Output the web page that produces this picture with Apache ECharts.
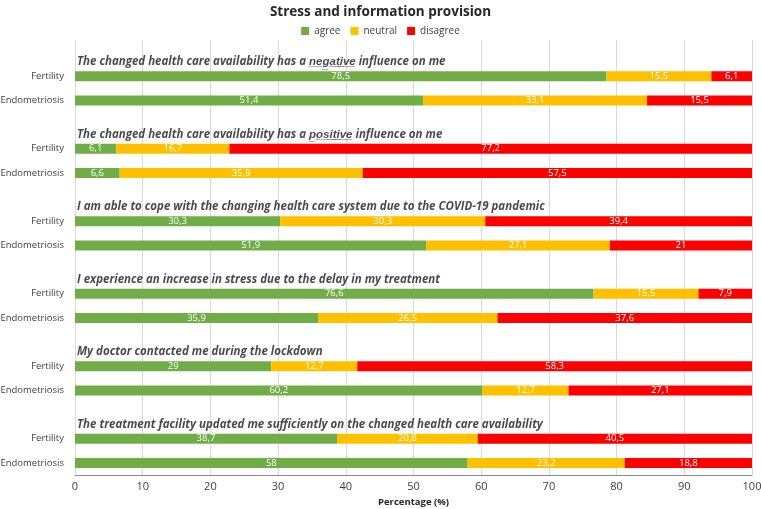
<!DOCTYPE html>
<html>
<head>
<meta charset="utf-8">
<script src="https://cdn.jsdelivr.net/npm/echarts@6/dist/echarts.min.js"></script>
<style>
  html, body { margin: 0; padding: 0; background: #fff; }
  #chart { width: 761px; height: 509px; }
</style>
</head>
<body>
<div id="chart"></div>
<script>
// statements (one per group); the word in [] is underlined in the original
const statements = [
  "The changed health care availability has a [negative] influence on me",
  "The changed health care availability has a [positive] influence on me",
  "I am able to cope with the changing health care system due to the COVID-19 pandemic",
  "I experience an increase in stress due to the delay in my treatment",
  "My doctor contacted me during the lockdown",
  "The treatment facility updated me sufficiently on the changed health care availability"
];
const groups = ["Fertility", "Endometriosis"];

// per group: [Fertility, Endometriosis]
const agree    = [[78.5, 51.4], [6.1, 6.6], [30.3, 51.9], [76.6, 35.9], [29, 60.2], [38.7, 58]];
const neutral  = [[15.5, 33.1], [16.7, 35.9], [30.3, 27.1], [15.5, 26.5], [12.7, 12.7], [20.8, 23.2]];
const disagree = [[6.1, 15.5], [77.2, 57.5], [39.4, 21], [7.9, 37.6], [58.3, 27.1], [40.5, 18.8]];

const xTicks = [0, 10, 20, 30, 40, 50, 60, 70, 80, 90, 100];

// rows: a statement row followed by the two patient groups
const categories = [];
statements.forEach(() => { categories.push(""); groups.forEach(g => categories.push(g)); });

function rows(arr) {
  const out = [];
  arr.forEach(pair => { out.push("-"); pair.forEach(v => out.push(v)); });
  return out;
}

// underline via combining low line
function underline(s) {
  return s.replace(/\[(.*?)\]/g, (m, w) => w.split("").map(c => c + "\u0332").join(""));
}
const statementPoints = statements.map((s, i) => ({ value: [0, i * 3], text: underline(s) }));

const chart = echarts.init(document.getElementById("chart"));
const font = "Open Sans, sans-serif";

const barLabel = {
  show: true,
  position: "inside",
  color: "#fff",
  fontSize: 9.5,
  fontFamily: font,
  formatter: p => String(p.value).replace(".", ",")
};

function barSeries(name, data, color) {
  return {
    name: name,
    type: "bar",
    stack: "total",
    barWidth: 10,
    data: rows(data),
    itemStyle: { color: color },
    label: barLabel,
    emphasis: { disabled: true }
  };
}

chart.setOption({
  animation: false,
  textStyle: { fontFamily: font },
  title: {
    text: "Stress and information provision",
    left: "center",
    top: 0,
    textStyle: { fontSize: 13.5, fontWeight: "bold", color: "#262626", fontFamily: font }
  },
  legend: {
    data: ["agree", "neutral", "disagree"],
    top: 21,
    left: "center",
    itemWidth: 8,
    itemHeight: 8,
    itemGap: 10,
    icon: "rect",
    textStyle: { fontSize: 10, color: "#404040", fontFamily: font }
  },
  grid: { left: 75, right: 9, top: 40, bottom: 34, outerBoundsMode: "none" },
  xAxis: {
    type: "value",
    min: 0,
    max: 100,
    interval: 10,
    name: "Percentage (%)",
    nameLocation: "middle",
    nameGap: 18,
    nameTextStyle: { fontSize: 9.5, fontWeight: "bold", color: "#262626" },
    axisLine: { show: true, lineStyle: { color: "#8c8c8c", width: 1 } },
    axisTick: { show: false },
    axisLabel: { fontSize: 11, color: "#404040", margin: 6,
      formatter: v => (xTicks.indexOf(v) >= 0 ? String(v) : "") },
    splitLine: { show: true, lineStyle: { color: "#d9d9d9", width: 1 } }
  },
  yAxis: {
    type: "category",
    inverse: true,
    data: categories,
    axisLine: { show: false },
    axisTick: { show: false },
    axisLabel: { fontSize: 9.5, color: "#404040", margin: 11 }
  },
  series: [
    barSeries("agree", agree, "#70ad47"),
    barSeries("neutral", neutral, "#ffc000"),
    barSeries("disagree", disagree, "#ff0000"),
    {
      name: "statement",
      type: "scatter",
      symbolSize: 0,
      data: statementPoints,
      silent: true,
      label: {
        show: true,
        position: "right",
        distance: 2,
        offset: [0, 10],
        formatter: p => p.data.text,
        fontSize: 11.5,
        fontWeight: "bold",
        fontStyle: "italic",
        color: "#1a1a1a",
        fontFamily: font
      }
    }
  ]
});
</script>
</body>
</html>
